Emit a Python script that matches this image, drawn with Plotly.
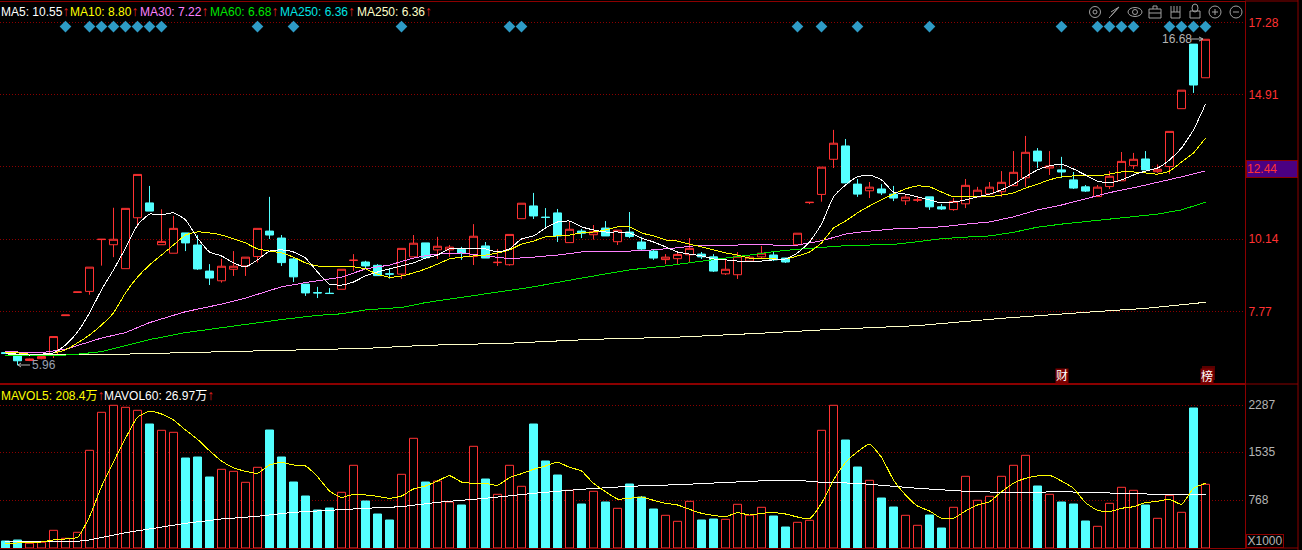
import plotly.graph_objects as go

# ---------- data ----------
opens = [6.38,6.28,6.12,6.18,6.30,7.60,8.37,8.40,10.11,9.94,
 9.15,10.83,11.32,9.94,9.66,10.33,9.93,9.07,8.75,9.13,
 9.24,9.55,10.39,10.16,9.47,8.64,8.36,8.34,8.47,9.42,
 9.37,9.26,8.98,8.97,9.54,10.00,9.77,9.77,9.79,9.55,
 9.90,9.35,9.28,10.80,11.22,10.85,10.99,10.01,10.39,10.27,
 10.49,10.04,10.36,10.03,9.73,9.45,9.48,9.61,9.63,9.54,
 8.98,8.95,9.40,9.54,9.60,9.50,9.94,11.33,11.60,12.76,
 13.20,11.94,11.72,11.78,11.61,11.39,11.41,11.52,11.19,11.10,
 11.29,11.52,11.62,11.69,11.89,12.15,13.03,12.47,12.41,12.08,
 11.85,11.53,11.86,12.05,12.55,12.77,12.35,12.52,14.43,16.56,15.45]
closes = [6.35,6.11,6.17,6.25,6.91,7.62,8.38,9.20,10.12,10.12,
 11.14,12.26,11.05,10.05,10.48,10.00,9.14,8.84,9.23,9.23,
 9.53,10.48,10.26,9.35,8.88,8.35,8.35,8.33,9.13,9.43,
 9.24,8.92,8.97,9.82,9.99,9.51,9.89,9.86,9.66,10.22,
 9.50,9.36,10.28,11.31,10.89,10.84,10.23,10.45,10.32,10.37,
 10.23,10.42,10.21,9.80,9.50,9.53,9.62,9.82,9.54,9.07,
 9.13,9.56,9.53,9.66,9.44,9.37,10.32,11.34,12.50,13.29,
 11.98,11.61,11.84,11.65,11.48,11.51,11.42,11.19,11.12,11.37,
 11.90,11.74,11.84,12.00,12.33,12.99,12.70,12.54,12.34,11.81,
 11.71,11.84,12.20,12.69,12.76,12.41,12.43,13.68,15.04,15.21,16.72]
highs = [6.39,6.28,6.18,6.25,6.91,7.62,8.38,9.20,10.12,11.16,
 11.14,12.26,11.88,11.11,10.89,10.33,10.26,9.30,9.48,9.73,
 9.53,10.48,11.52,10.26,9.53,8.64,8.55,8.51,9.13,9.63,
 9.41,9.30,9.14,9.82,10.26,10.00,10.20,9.93,9.87,10.62,
 10.03,9.80,10.28,11.31,11.65,11.15,11.12,10.70,10.46,10.59,
 10.72,10.42,11.02,10.20,9.77,9.63,9.73,10.16,9.70,9.63,
 9.47,9.70,9.60,9.90,9.70,9.50,10.32,11.34,12.50,13.73,
 13.43,12.11,12.01,11.94,11.88,11.58,11.52,11.52,11.28,11.48,
 12.11,11.85,12.01,12.37,13.03,13.53,13.13,13.03,12.84,12.34,
 11.91,11.91,12.37,13.00,12.97,13.03,12.59,13.68,15.04,16.56,16.72]
lows = [6.34,5.96,6.10,6.16,6.20,7.60,8.36,8.29,9.25,9.53,
 9.15,10.54,11.05,9.94,9.66,9.73,9.11,8.61,8.69,8.91,
 8.91,9.35,10.13,9.24,8.71,8.25,8.18,8.33,8.47,9.07,
 9.15,8.92,8.82,8.81,9.54,9.51,9.47,9.54,9.44,9.27,
 9.50,9.24,9.25,10.80,10.79,10.49,10.03,10.01,10.16,10.11,
 10.23,9.93,10.16,9.77,9.44,9.30,9.30,9.37,9.47,9.04,
 8.94,8.81,9.37,9.50,9.40,9.34,9.94,11.28,11.36,12.47,
 11.98,11.52,11.48,11.58,11.38,11.25,11.35,11.09,11.09,11.06,
 11.15,11.52,11.61,11.52,11.89,11.85,12.47,12.24,12.14,11.78,
 11.68,11.53,11.78,12.05,12.44,12.41,12.31,12.27,14.43,14.95,15.45]

ma5 = [6.37,6.33,6.30,6.33,6.37,6.63,7.06,7.69,8.45,9.11,
 9.83,10.59,10.95,10.93,10.99,10.76,10.16,9.70,9.57,9.34,
 9.21,9.44,9.73,9.77,9.70,9.50,9.04,8.64,8.61,8.71,
 8.91,9.04,9.14,9.24,9.34,9.50,9.60,9.80,9.80,9.83,
 9.80,9.70,9.80,10.13,10.23,10.49,10.69,10.72,10.53,10.43,
 10.36,10.36,10.33,10.16,10.03,9.87,9.70,9.63,9.57,9.47,
 9.44,9.40,9.37,9.40,9.44,9.47,9.67,10.03,10.62,11.52,
 11.91,12.18,12.24,12.08,11.68,11.61,11.52,11.42,11.32,11.35,
 11.42,11.52,11.61,11.75,11.94,12.18,12.41,12.54,12.60,12.44,
 12.24,12.04,11.98,12.08,12.24,12.37,12.47,12.74,13.13,13.73,14.58]
ma10 = [6.38,6.37,6.33,6.33,6.37,6.47,6.70,6.96,7.29,7.69,
 8.35,8.87,9.27,9.60,9.93,10.26,10.36,10.33,10.26,10.13,
 10.00,9.80,9.73,9.67,9.53,9.34,9.24,9.21,9.21,9.21,
 9.14,8.97,8.87,8.91,9.01,9.14,9.30,9.47,9.53,9.57,
 9.60,9.67,9.77,9.96,10.06,10.20,10.23,10.26,10.33,10.36,
 10.43,10.53,10.53,10.33,10.23,10.10,10.06,9.96,9.87,9.77,
 9.67,9.60,9.50,9.47,9.47,9.47,9.57,9.70,10.00,10.49,
 10.72,10.99,11.22,11.42,11.61,11.78,11.88,11.85,11.68,11.52,
 11.52,11.52,11.52,11.58,11.65,11.81,11.94,12.08,12.18,12.21,
 12.21,12.21,12.27,12.34,12.34,12.31,12.27,12.37,12.67,12.97,13.46]
ma30_x = [0,3,5,8,10,12,15,18,20,23,25,28,30,32,34,35,36,38,40,42,44,46,48,50,52,54,
 56,58,60,62,64,66,68,70,71,72,74,76,78,80,82,84,86,88,90,92,94,96,98,100]
ma30 = [6.41,6.38,6.49,6.86,7.04,7.37,7.73,7.98,8.18,8.55,8.69,8.87,9.14,9.27,9.50,9.58,
 9.63,9.67,9.57,9.48,9.53,9.60,9.70,9.73,9.73,9.77,9.84,9.93,9.90,9.96,9.93,9.93,
 10.07,10.29,10.35,10.39,10.46,10.49,10.53,10.62,10.69,10.86,11.09,11.25,11.45,
 11.66,11.82,11.99,12.18,12.38]
ma60_x = [0,4,6,8,10,12,15,18,20,23,26,28,30,33,35,37,40,44,48,52,55,58,60,62,64,66,68,70,
 72,74,76,78,80,82,84,86,88,90,92,94,96,98,100]
ma60 = [6.28,6.27,6.33,6.41,6.61,6.81,7.04,7.20,7.32,7.47,7.61,7.66,7.79,7.87,8.03,8.14,
 8.31,8.55,8.84,9.11,9.24,9.41,9.50,9.60,9.71,9.79,9.85,9.91,9.93,9.95,10.04,10.14,
 10.19,10.23,10.35,10.52,10.62,10.70,10.79,10.86,10.95,11.09,11.34]
ma250_x = [0,10,15,20,25,30,35,42,49,56,63,69,76,83,90,95,100]
ma250 = [6.30,6.33,6.38,6.42,6.47,6.52,6.62,6.69,6.82,6.89,7.02,7.15,7.27,7.51,7.71,7.84,8.04]

volumes = [112,128,75,91,283,155,251,1563,2171,2283,
 2251,2203,1984,1883,1851,1440,1456,1136,1259,1227,
 1051,1291,1888,1456,1056,832,608,640,891,1323,
 752,544,448,1179,1755,1056,1072,736,688,1627,
 1104,859,1323,987,1984,1392,1168,923,704,907,
 736,635,1024,816,624,523,427,747,448,464,
 459,699,523,651,512,336,411,443,1883,2283,
 1728,1296,1083,800,656,523,363,528,320,651,
 1147,763,827,1147,1323,1483,992,859,736,704,
 432,347,715,971,923,688,475,843,571,2240,1019]
mavol5 = [75,80,85,96,128,144,171,501,981,1381,
 1755,2091,2187,2144,2048,1888,1739,1557,1392,1285,
 1227,1195,1328,1371,1328,1312,1141,912,811,859,
 848,827,795,832,944,992,1072,1157,1056,1035,
 1035,1003,1125,1189,1259,1312,1371,1291,1232,1035,
 901,784,795,816,763,715,688,619,555,523,
 501,565,528,555,565,544,496,469,715,1088,
 1365,1541,1659,1451,1088,848,672,592,475,475,
 592,688,741,901,1035,1115,1152,1163,1072,955,
 725,603,581,635,661,725,747,779,699,955,1035]
mavol60_x = [0,6,7,10,12,15,18,21,24,27,30,33,35,36,40,44,48,52,56,60,64,66,68,71,72,76,80,84,88,92,96,100]
mavol60 = [101,107,128,245,304,395,464,507,571,608,635,661,709,731,795,875,939,987,1013,
 1051,1083,1083,1051,1035,1019,955,907,885,901,885,859,859]

signal_idx = [5,7,8,9,10,11,12,13,21,24,33,42,43,66,68,71,77,88,91,92,93,94,97,98,99,100]
signal_level = 17.14

price_ticks = [17.28,14.90,12.53,10.12,7.74]
price_labels = ["17.28","14.91","","10.14","7.77"]
current_label = "12.44"
vol_ticks = [2287,1535,768]
vol_labels = ["2287","1535","768"]
vol_unit = "X1000"
high_label = "16.68"
low_label = "5.96"

legend_main = [("MA5: 10.55",0,"#ffffff"),("MA10: 8.80",69,"#ffff00"),("MA30: 7.22",139,"#ff80ff"),
               ("MA60: 6.68",209,"#00e600"),("MA250: 6.36",279,"#00e5e5"),("MA250: 6.36",356,"#ffffc8")]
legend_vol = [("MAVOL5: 208.4万",0,"#ffff00"),("MAVOL60: 26.97万",103,"#ffffff")]

# ---------- styling ----------
W,H = 1302,550
PLOT_W = 1245
RED,CYAN = "#ff3232","#54ffff"
FRAME = "#8b0000"
FONT = "Liberation Sans, Noto Sans CJK SC, sans-serif"
def px(x): return x/PLOT_W
def py(y): return 1-y/H

xs = list(range(len(closes)))
fig = go.Figure()

fig.add_trace(go.Candlestick(x=xs,open=opens,high=highs,low=lows,close=closes,
    increasing=dict(line=dict(color=RED,width=1),fillcolor="#000000"),
    decreasing=dict(line=dict(color=CYAN,width=1),fillcolor=CYAN),
    xaxis="x",yaxis="y",hoverinfo="skip"))

def line(x,y,color,axis="y",xa="x",smooth=True):
    fig.add_trace(go.Scatter(x=x,y=y,mode="lines",xaxis=xa,yaxis=axis,hoverinfo="skip",
        line=dict(color=color,width=1,shape="spline" if smooth else "linear",smoothing=0.5)))

line(ma250_x,ma250,"#ffffc8",smooth=False)
line(ma60_x,ma60,"#00e600",smooth=False)
line(ma30_x,ma30,"#ff80ff",smooth=False)
line(xs,ma10,"#ffff00")
line(xs,ma5,"#ffffff")

fig.add_trace(go.Scatter(x=signal_idx,y=[signal_level]*len(signal_idx),mode="markers",hoverinfo="skip",
    marker=dict(symbol="diamond",size=9,color="#2e9bc6"),xaxis="x",yaxis="y"))

up = [c>=o for o,c in zip(opens,closes)]
fig.add_trace(go.Bar(x=xs,y=volumes,width=8/12,xaxis="x2",yaxis="y2",hoverinfo="skip",
    marker=dict(color=["#000000" if u else CYAN for u in up],
                line=dict(color=[RED if u else CYAN for u in up],width=1))))
line(mavol60_x,mavol60,"#ffffff",axis="y2",xa="x2",smooth=False)
line(xs,mavol5,"#ffff00",axis="y2",xa="x2")

xr = [-5.5/12,(PLOT_W-5.5)/12]
axis_x = dict(range=xr,showticklabels=False,showgrid=False,zeroline=False,ticks="",
              showline=True,linecolor=FRAME,linewidth=1,mirror=True,
              rangeslider=dict(visible=False))
axis_y = dict(side="right",showgrid=True,griddash="1px,2px",gridcolor=FRAME,gridwidth=1,zeroline=False,
              showline=True,linecolor=FRAME,linewidth=1,ticks="",
              tickmode="array")
fig.update_layout(
    width=W,height=H,paper_bgcolor="#000000",plot_bgcolor="#000000",showlegend=False,
    margin=dict(l=0,r=W-PLOT_W,t=0,b=0,autoexpand=False),
    font=dict(family=FONT,size=12,color="#b4b4b4"),
    boxgap=1/3,boxgroupgap=0,
    xaxis=dict(axis_x,anchor="y",domain=[0,1]),
    xaxis2=dict(axis_x,anchor="y2",domain=[0,1],matches="x"),
    yaxis=dict(axis_y,anchor="x",domain=[py(384),py(2)],range=[5.344,17.95],
               tickvals=price_ticks,ticktext=price_labels,tickfont=dict(color=RED,size=12,family=FONT)),
    yaxis2=dict(axis_y,anchor="x2",domain=[py(548),py(384)],range=[0,2624],
                tickvals=vol_ticks,ticktext=vol_labels,tickfont=dict(color="#b4b4b4",size=12,family=FONT)),
)

def text(x,y,s,color="#b4b4b4",size=12,xanchor="left",**kw):
    fig.add_annotation(xref="paper",yref="paper",x=px(x),y=py(y),text=s,showarrow=False,xanchor=xanchor,
                       yanchor="middle",font=dict(color=color,size=size,family=FONT),borderpad=0,**kw)

arrow = '<span style="color:#e02020;font-size:14px">↑</span>'
for s,x,c in legend_main: text(x,11,s+arrow,c)
for s,x,c in legend_vol: text(x,395,s+arrow,c)

text(1246,169,current_label,RED,12,bgcolor="#4b0082",bordercolor=FRAME,borderwidth=1,width=50,height=16,align="left")
text(1246,540.5,vol_unit,"#b4b4b4",12,bordercolor=FRAME,borderwidth=1,width=36,height=12)
text(1161,39,high_label,"#b4b4b4",12)
text(31,365,low_label,"#9aa0b0",12)
text(1062,376,"财","#ffffff",12,xanchor="center",bgcolor="#7a0000")
text(1207,376,"榜","#ffffff",12,xanchor="center",bgcolor="#7a0000")

shapes = []
def seg(x0,y0,x1,y1,color="#b4b4b4",w=1):
    shapes.append(dict(type="line",xref="paper",yref="paper",x0=px(x0),y0=py(y0),x1=px(x1),y1=py(y1),
                       line=dict(color=color,width=w)))
def oval(cx,cy,rx,ry,color="#a0a0a0",w=1):
    shapes.append(dict(type="circle",xref="paper",yref="paper",x0=px(cx-rx),x1=px(cx+rx),y0=py(cy-ry),y1=py(cy+ry),
                       line=dict(color=color,width=w)))
def box(x0,y0,x1,y1,color="#a0a0a0",w=1):
    shapes.append(dict(type="rect",xref="paper",yref="paper",x0=px(x0),x1=px(x1),y0=py(y0),y1=py(y1),
                       line=dict(color=color,width=w)))

# frame beyond the plot area
seg(1298,0,1298,H,FRAME); seg(PLOT_W,1,1298,1,FRAME); seg(PLOT_W,384,1298,384,FRAME); seg(PLOT_W,548,1298,548,FRAME)
# darker square behind the second tag
shapes.append(dict(type="rect",xref="paper",yref="paper",x0=px(1202),x1=px(1215),y0=py(366),y1=py(380),
                   fillcolor="#5a0000",line=dict(width=0)))
# price extreme pointers
seg(1190,39,1203,39); seg(1203,39,1199,37); seg(1203,39,1199,41)
seg(18,365,30,365); seg(18,365,21,363); seg(18,365,21,367)
# toolbar icons
G = "#a0a0a0"
oval(1095,12,5.5,5.5,G); oval(1095,12,2,2,G)
seg(1109,18,1119,7,G); seg(1111,12,1119,7,G); seg(1111,16,1119,7,G)
oval(1135,12,7,4.5,G); oval(1135,12,2.5,2.5,G)
box(1149,9,1161,18,G); seg(1153,9,1153,6,G); seg(1153,6,1157,6,G); seg(1157,6,1157,9,G); seg(1149,13,1161,13,G)
box(1171,12,1180,18,G)
for hx in (1171,1174,1177,1180): seg(hx,12,hx,6,G)
box(1190,11,1200,18,G); oval(1195,8,3,4,G)
oval(1215,12,6,6,G); seg(1212,12,1218,12,G); seg(1215,9,1215,15,G)
oval(1236,12,6,6,G); seg(1233,12,1239,12,G)
fig.update_layout(shapes=shapes)

fig.write_html("out.html",config=dict(displayModeBar=False),
               post_script="document.body.style.margin='0';document.body.style.overflow='hidden';"
               "var s=document.createElement('style');s.textContent='.scatterlayer .js-line{shape-rendering:crispEdges}';document.head.appendChild(s);")
